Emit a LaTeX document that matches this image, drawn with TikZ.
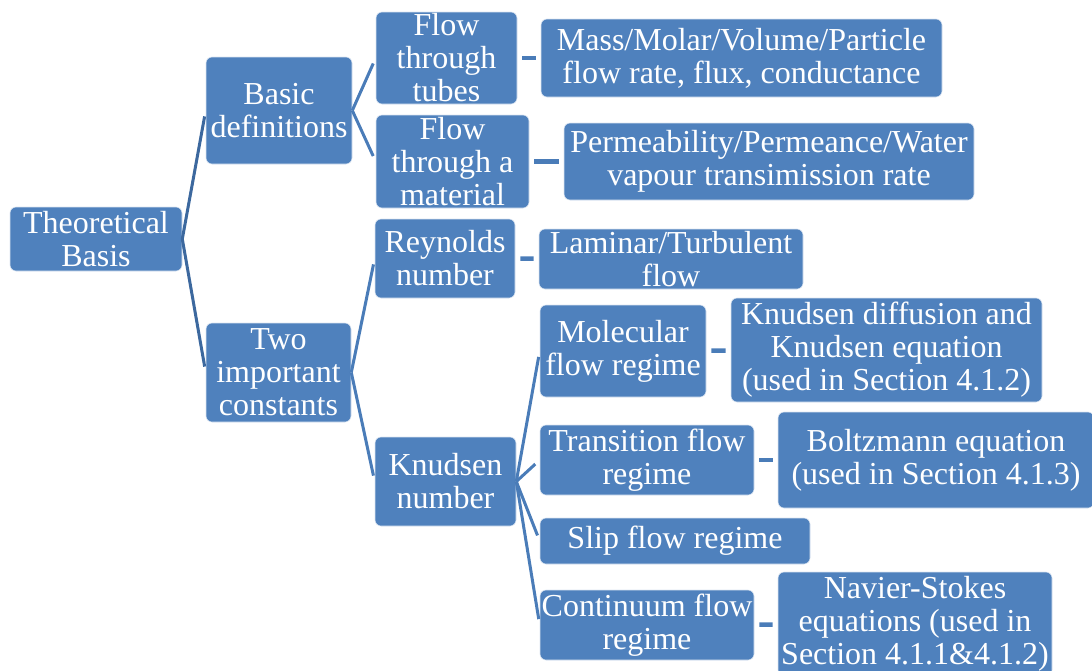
\documentclass[tikz,border=0pt]{standalone}
\usepackage{fontspec}
\setmainfont{Liberation Serif}
\usepackage{xcolor}
\usepackage{tikz}
\usetikzlibrary{positioning}
\definecolor{boxblue}{RGB}{79, 129, 189}
\definecolor{linkblue}{RGB}{74, 124, 184}
\definecolor{rootblue}{RGB}{60, 104, 158}

\begin{document}
\begin{tikzpicture}[
    x=1pt, y=-1pt,
    box/.style={rectangle, rounded corners=6pt, fill=boxblue, draw=white!80!boxblue, line width=0.6pt, text=white, align=center, inner sep=0pt, font=\fontsize{32}{33}\selectfont},
    branch/.style={line width=3pt, linkblue, shorten >=6pt},
    rootbranch/.style={line width=3pt, rootblue, shorten >=6pt},
    bar/.style={line width=4.5pt, linkblue, shorten <=5pt, shorten >=5pt}
]
\useasboundingbox (0,0) rectangle (1092,670);

% Root
\node[box, minimum width=172pt, minimum height=64pt] (basis) at (96,239) {Theoretical\\Basis};

% First level
\node[box, minimum width=146pt, minimum height=107pt] (basic) at (279,110.5) {Basic\\definitions};
\node[box, minimum width=145pt, minimum height=99pt] (consts) at (278.5,372.5) {Two\\important\\constants};

% Second level
\node[box, minimum width=141pt, minimum height=92pt] (tubes) at (446.5,58) {Flow\\through\\tubes};
\node[box, minimum width=153pt, minimum height=93pt] (material) at (452.5,161.5) {Flow\\through a\\material};
\node[box, minimum width=140pt, minimum height=79pt] (reynolds) at (445,258.5) {Reynolds\\number};
\node[box, minimum width=141pt, minimum height=89pt] (knudsen) at (445.5,481.5) {Knudsen\\number};

% Flow regimes
\node[box, minimum width=166pt, minimum height=92pt] (molecular) at (623,351) {Molecular\\flow regime};
\node[box, minimum width=214pt, minimum height=70pt] (transition) at (647,460) {Transition flow\\regime};
\node[box, minimum width=270pt, minimum height=46pt] (slip) at (675,541) {Slip flow regime};
\node[box, minimum width=214pt, minimum height=70pt] (continuum) at (647,625) {Continuum flow\\regime};

% Leaves
\node[box, minimum width=401pt, minimum height=78pt] (rate) at (741.5,58) {Mass/Molar/Volume/Particle\\flow rate, flux, conductance};
\node[box, minimum width=410pt, minimum height=77pt] (perm) at (769,161.5) {Permeability/Permeance/Water\\vapour transimission rate};
\node[box, minimum width=264pt, minimum height=60pt] (laminar) at (671,259) {Laminar/Turbulent\\flow};
\node[box, minimum width=311pt, minimum height=104pt] (kdiff) at (886.5,350) {Knudsen diffusion and\\Knudsen equation\\(used in Section 4.1.2)};
\node[box, minimum width=316pt, minimum height=96pt] (boltz) at (936,460) {Boltzmann equation\\(used in Section 4.1.3)};
\node[box, minimum width=274pt, minimum height=104pt] (navier) at (915,624) {Navier-Stokes\\equations (used in\\Section 4.1.1\&4.1.2)};

% Branches
\draw[rootbranch] (basis.east) -- (basic.west);
\draw[rootbranch] (basis.east) -- (consts.west);
\draw[branch] (basic.east) -- (tubes.west);
\draw[branch] (basic.east) -- (material.west);
\draw[branch] (consts.east) -- (reynolds.west);
\draw[branch] (consts.east) -- (knudsen.west);
\draw[branch] (knudsen.east) -- (molecular.west);
\draw[branch] (knudsen.east) -- (transition.west);
\draw[branch] (knudsen.east) -- (slip.west);
\draw[branch] (knudsen.east) -- (continuum.west);

% Short links
\draw[bar] (tubes) -- (rate);
\draw[bar] (material) -- (perm);
\draw[bar] (reynolds) -- (laminar);
\draw[bar] (molecular) -- (kdiff);
\draw[bar] (transition) -- (boltz);
\draw[bar] (continuum) -- (navier);
\end{tikzpicture}
\end{document}
